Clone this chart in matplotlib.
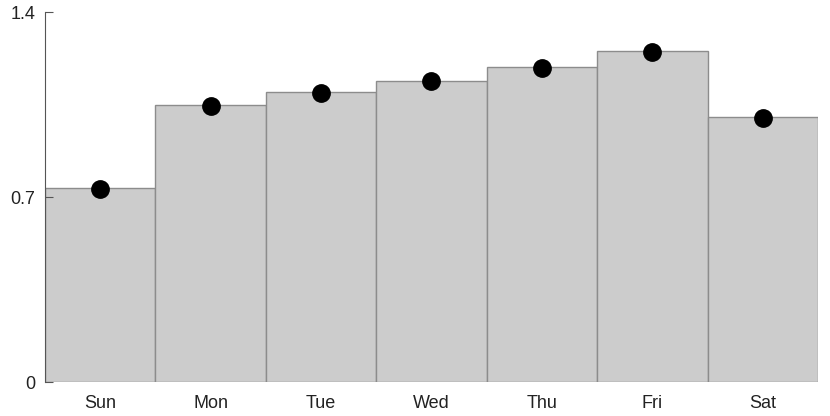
import matplotlib.pyplot as plt

# data
days = ['Sun', 'Mon', 'Tue', 'Wed', 'Thu', 'Fri', 'Sat']
bar_vals = [0.733, 1.048, 1.097, 1.141, 1.191, 1.252, 1.003]
dot_vals = [0.729, 1.046, 1.095, 1.139, 1.189, 1.250, 1.000]
yticks = [0, 0.7, 1.4]

plt.rcParams['font.family'] = ['Liberation Sans', 'DejaVu Sans']
plt.rcParams['font.size'] = 13

fig = plt.figure(figsize=(8.3, 4.16), dpi=100)
ax = fig.add_axes([0.0542, 0.0817, 0.9313, 0.8893])

x = list(range(len(days)))
ax.bar(x, bar_vals, width=1.0, color='#cccccc', edgecolor='#8c8c8c', linewidth=1)
ax.plot(x, dot_vals, 'o', color='black', markersize=12.5, zorder=3)

ax.set_xlim(-0.5, len(days) - 0.5)
ax.set_ylim(0, 1.4)
ax.set_xticks(x)
ax.set_xticklabels(days)
ax.set_yticks(yticks)
ax.set_yticklabels(['0', '0.7', '1.4'])

for s in ['top', 'right', 'bottom']:
    ax.spines[s].set_visible(False)
ax.spines['left'].set_color('#555555')
ax.tick_params(axis='y', direction='in', length=6, color='#555555', pad=7, labelcolor='#222222')
ax.tick_params(axis='x', length=0, pad=9, labelcolor='#222222')

plt.savefig('out.png', dpi=100)
